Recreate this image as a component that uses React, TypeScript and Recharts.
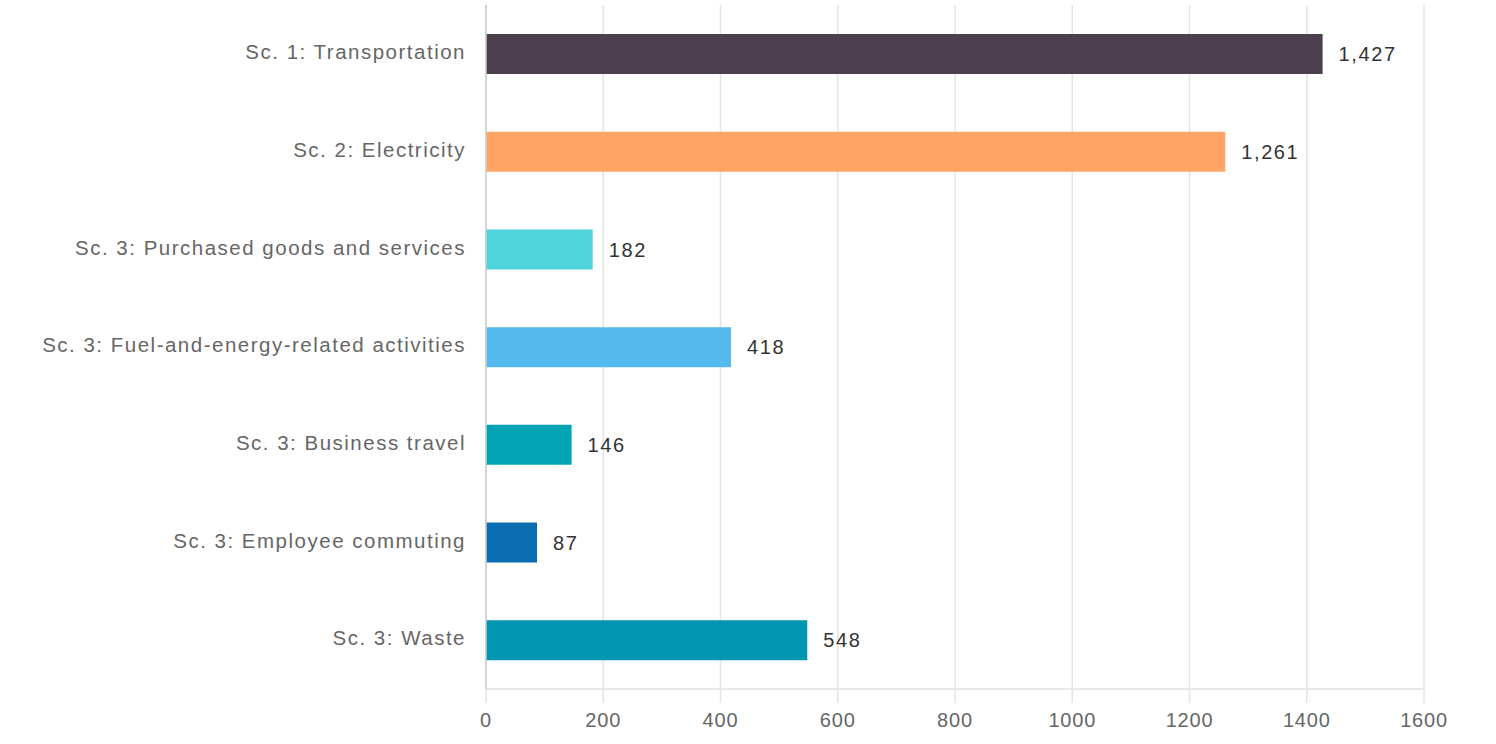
import { BarChart, Bar, XAxis, YAxis, CartesianGrid, Cell, LabelList } from "recharts";

const categories = [
  "Sc. 1: Transportation",
  "Sc. 2: Electricity",
  "Sc. 3: Purchased goods and services",
  "Sc. 3: Fuel-and-energy-related activities",
  "Sc. 3: Business travel",
  "Sc. 3: Employee commuting",
  "Sc. 3: Waste",
];
const emissions = [1427, 1261, 182, 418, 146, 87, 548];
const barColors = ["#4b3f4e", "#ffa366", "#4fd4de", "#55baee", "#00a4b3", "#0a6db0", "#0095b3"];
const xTicks = [0, 200, 400, 600, 800, 1000, 1200, 1400, 1600];

const data = categories.map((name, i) => ({ name, value: emissions[i] }));

const FONT = "'Liberation Sans', Arial, sans-serif";

export default function App() {
  return (
    <div style={{ position: "absolute", left: 0, top: 0, background: "#fff" }}>
      <BarChart
        width={1496}
        height={744}
        data={data}
        layout="vertical"
        margin={{ top: 5, right: 72, bottom: 0, left: 0 }}
        barSize={40}
      >
        <CartesianGrid horizontal={false} stroke="#e4e4e4" strokeWidth={1.5} />
        <XAxis
          type="number"
          domain={[0, 1600]}
          ticks={xTicks}
          height={55}
          axisLine={{ stroke: "#e8e8e8", strokeWidth: 2 }}
          tickLine={{ stroke: "#e4e4e4", strokeWidth: 1.5 }}
          tickSize={14}
          tickMargin={10}
          tick={{ fill: "#666", fontSize: 20, fontFamily: FONT, letterSpacing: 0.8 }}
        />
        <YAxis
          type="category"
          dataKey="name"
          width={486}
          axisLine={{ stroke: "#cccccc", strokeWidth: 1.5 }}
          tickLine={false}
          tickSize={0}
          tickMargin={20}
          tick={{ fill: "#666", fontSize: 20.5, fontFamily: FONT, letterSpacing: 1.5, dy: -2 }}
        />
        <Bar dataKey="value" isAnimationActive={false}>
          {data.map((d, i) => (
            <Cell key={d.name} fill={barColors[i]} />
          ))}
          <LabelList
            dataKey="value"
            position="right"
            offset={16}
            formatter={(v: number) => v.toLocaleString("en-US")}
            style={{ fill: "#333", fontSize: 20, fontFamily: FONT, letterSpacing: 1.6 }}
          />
        </Bar>
      </BarChart>
    </div>
  );
}
